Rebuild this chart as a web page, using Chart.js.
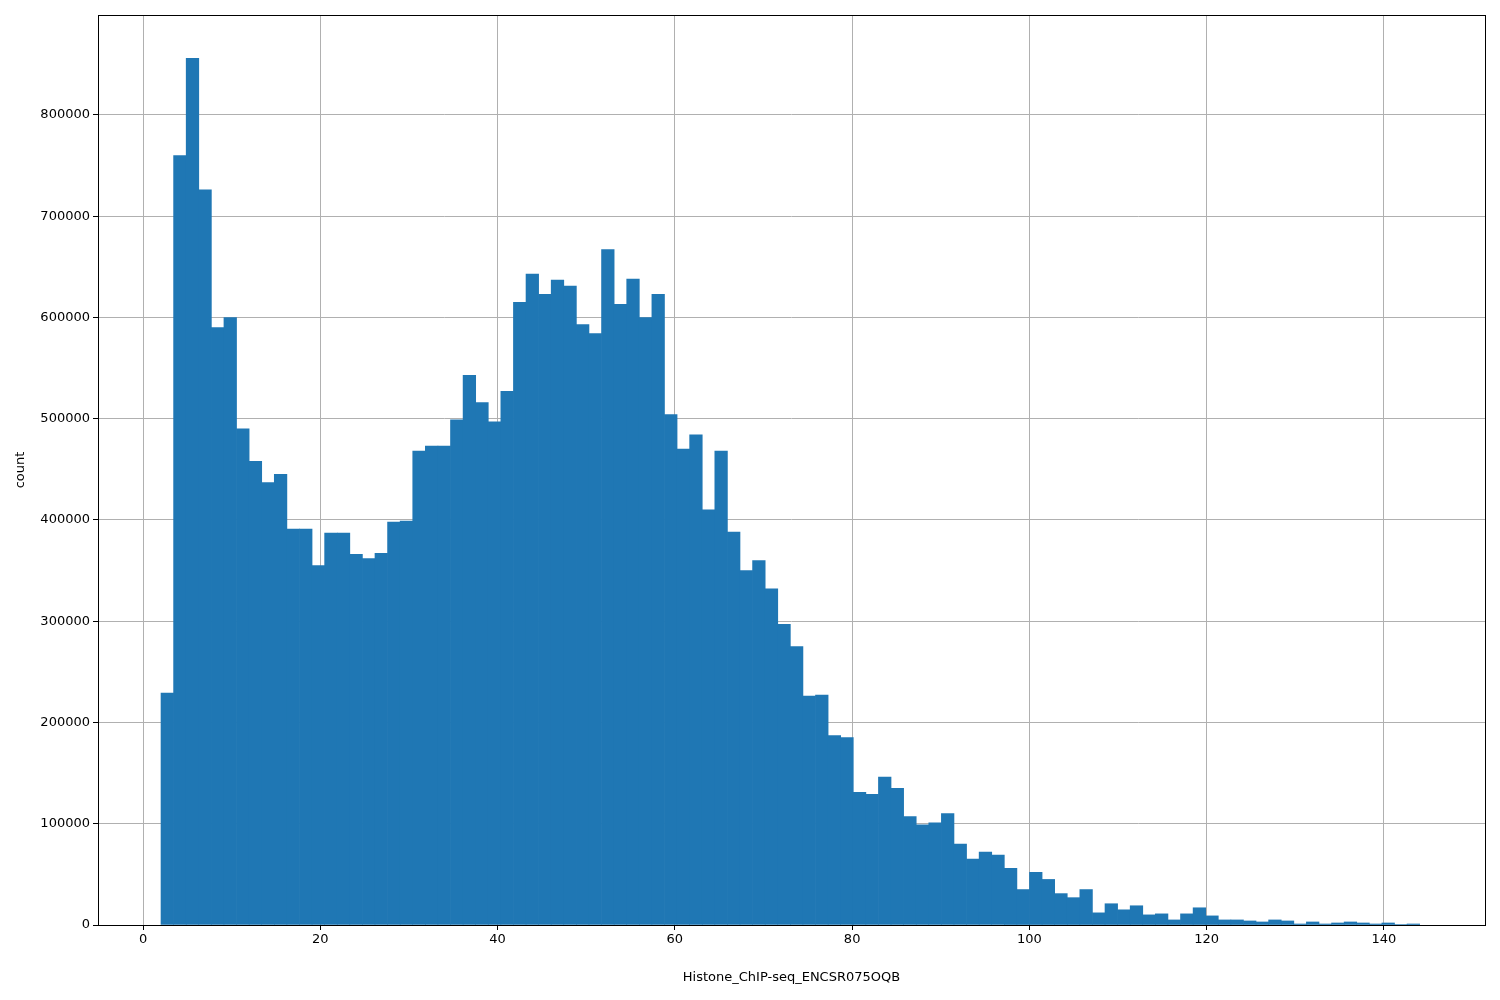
<!DOCTYPE html>
<html>
<head>
<meta charset="utf-8">
<script src="https://cdn.jsdelivr.net/npm/chart.js@4"></script>
<style>
  html, body { margin: 0; padding: 0; background: #fff; }
  #wrap { width: 1500px; height: 1000px; }
</style>
</head>
<body>
<div id="wrap"><canvas id="hist"></canvas></div>
<script>
// histogram: 100 bins starting near 2.03, each ~1.42 wide
const binStart = 2.03;
const binWidth = 1.42;
const counts = [
  229000, 760000, 856000, 726000, 590000, 600000, 490000, 458000, 437000, 445000,
  391000, 391000, 355000, 387000, 387000, 366000, 362000, 367000, 398000, 399000,
  468000, 473000, 473000, 499000, 543000, 516000, 497000, 527000, 615000, 643000,
  623000, 637000, 631000, 593000, 584000, 667000, 613000, 638000, 600000, 623000,
  504000, 470000, 484000, 410000, 468000, 388000, 350000, 360000, 332000, 297000,
  275000, 226000, 227000, 187000, 185000, 131000, 129000, 146000, 135000, 107000,
  99000, 101000, 110000, 80000, 65000, 72000, 69000, 56000, 35000, 52000,
  45000, 31000, 27000, 35000, 12000, 21000, 15000, 19000, 10000, 11000,
  5000, 11000, 17000, 9000, 5000, 5000, 4000, 3000, 5000, 4000,
  1000, 3000, 1000, 2000, 3000, 2000, 1000, 2000, 500, 1000
];
const xTicks = [0, 20, 40, 60, 80, 100, 120, 140];
const yTicks = [0, 100000, 200000, 300000, 400000, 500000, 600000, 700000, 800000];

const points = counts.map((c, i) => ({ x: binStart + binWidth * (i + 0.5), y: c }));

const frame = {
  id: "frame",
  afterDraw(chart) {
    const { ctx, chartArea: a } = chart;
    ctx.save();
    ctx.strokeStyle = "#000";
    ctx.lineWidth = 1;
    ctx.strokeRect(a.left + 0.5, a.top + 0.5, a.right - a.left, a.bottom - a.top);
    ctx.restore();
  },
};

const font = { family: "DejaVu Sans", size: 13 };

new Chart(document.getElementById("hist"), {
  type: "bar",
  data: {
    datasets: [{
      data: points,
      backgroundColor: "#1f77b4",
      borderWidth: 0,
      barPercentage: 1,
      categoryPercentage: 1,
    }],
  },
  options: {
    responsive: true,
    maintainAspectRatio: false,
    animation: false,
    layout: { padding: { left: 9, top: 15, right: 15, bottom: 11 } },
    plugins: { legend: { display: false }, tooltip: { enabled: false } },
    scales: {
      x: {
        type: "linear",
        min: -5.08,
        max: 151.4,
        offset: false,
        z: 1,
        afterBuildTicks: (s) => { s.ticks = xTicks.map((v) => ({ value: v })); },
        afterFit: (s) => { s.height = 64; },
        ticks: { color: "#000", font, maxRotation: 0, padding: 2 },
        grid: { color: "#b0b0b0", tickColor: "#000", tickLength: 5, offset: false },
        border: { display: false },
        title: { display: true, text: "Histone_ChIP-seq_ENCSR075OQB", color: "#000", font, padding: { top: 14 } },
      },
      y: {
        min: 0,
        max: 898765,
        z: 1,
        afterBuildTicks: (s) => { s.ticks = yTicks.map((v) => ({ value: v })); },
        afterFit: (s) => { s.width = 89; },
        ticks: { color: "#000", font, padding: 3, callback: (v) => String(v) },
        grid: { color: "#b0b0b0", tickColor: "#000", tickLength: 5 },
        border: { display: false },
        title: { display: true, text: "count", color: "#000", font, padding: { bottom: 2 } },
      },
    },
  },
  plugins: [frame],
});
</script>
</body>
</html>
